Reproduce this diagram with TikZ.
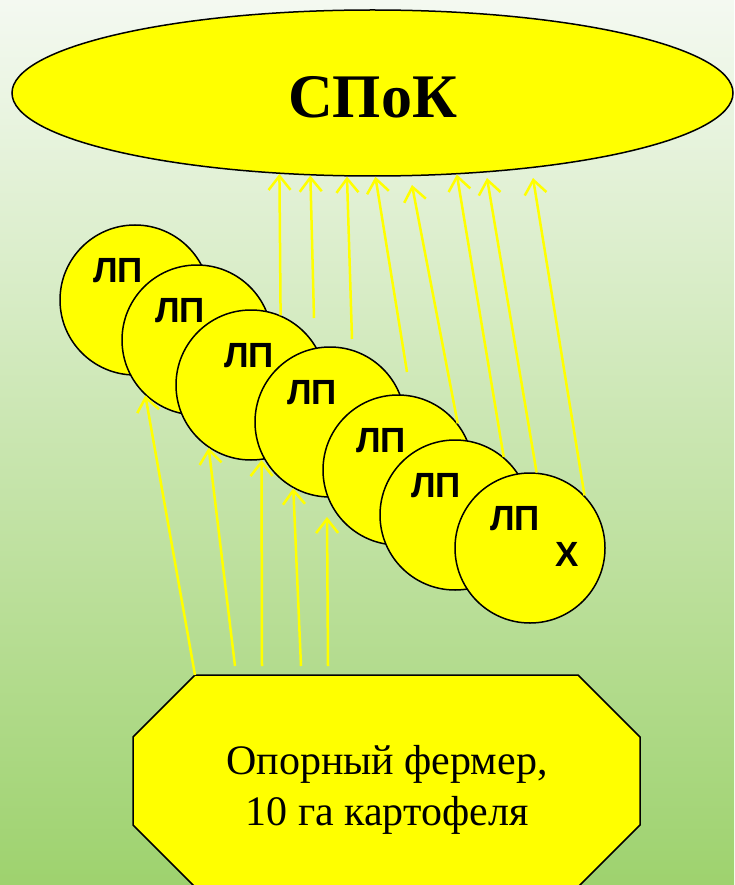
\documentclass[tikz,border=0pt]{standalone}
\usepackage{fontspec}
\setmainfont{Liberation Serif}
\newfontfamily\lpfont{Liberation Sans}
\usetikzlibrary{shapes.geometric,arrows.meta}

\definecolor{bgtop}{HTML}{F4F9F1}
\definecolor{bgmid}{HTML}{D6EACA}
\definecolor{bgbot}{HTML}{9ED26E}
\definecolor{sun}{HTML}{FFFF00}

\tikzset{
  lp/.style={circle, draw=black, line width=1.5pt, fill=sun, minimum size=150pt, inner sep=0pt},
  lptext/.style={font=\lpfont\bfseries\fontsize{35}{40}\selectfont},
  feed/.style={draw=sun, line width=2.5pt, -{Straight Barb[length=14pt,width=22pt]}}
}

\begin{document}
\begin{tikzpicture}[x=1pt,y=-1pt]
	\useasboundingbox (0,0) rectangle (734,885);
	\clip (0,0) rectangle (734,885);
	\shade[top color=bgtop, middle color=bgmid, bottom color=bgbot] (0,0) rectangle (734,885);

	\node[ellipse, draw=black, line width=1.5pt, fill=sun, minimum width=721pt, minimum height=166pt,
	      inner sep=0pt, text height=50pt, font=\bfseries\fontsize{62}{70}\selectfont] (spok) at (372.5,93) {СПоК};

	% the row of circles, each one over the one before
	\foreach \n/\x/\y/\dx in {1/135/300/-17, 2/197/340/-17, 3/251/385/-2, 4/330/422/-18,
	                          5/398/470/-17, 6/455/515/-19, 7/530/548/-15}
		\node[lp, label={[lptext, xshift=\dx pt, yshift=29pt]center:ЛП}] (c\n) at (\x,\y) {};
	\node[lptext] (xmark) at ([xshift=37pt,yshift=-6pt]c7.center) {Х};

	\filldraw[fill=sun, draw=black, line width=1.5pt] (195,675) coordinate (farmtl) -- (578,675) -- (640,737)
		-- (640,825) -- (578,887) -- (195,887) -- (133,825) -- (133,737) -- cycle;
	\node[font=\fontsize{42}{51}\selectfont, align=center] (farmer) at (387,790) {Опорный фермер,\\10 га картофеля};

	% up to the ellipse
	\coordinate (u2) at (314,318);
	\coordinate (u3) at (352,339);
	\coordinate (u4) at (407,372);
	\coordinate (t5) at (412,185);
	\coordinate (t7) at (487,178);
	\coordinate (t8) at (533,178);
	\draw[feed] (c3.67) -- (spok.-139.75);
	\draw[feed] (u2) -- (spok.-127.1);
	\draw[feed] (u3) -- (spok.-107.3);
	\draw[feed] (u4) -- (spok.-88.3);
	\draw[feed] (c5.38) -- (t5);
	\draw[feed] (c6.50) -- (spok.-44.8);
	\draw[feed] (c7.85) -- (t7);
	\draw[feed] (c7.44) -- (t8);

	% up from the farmer
	\coordinate (l2) at (235,666);
	\coordinate (l3) at (262,666);
	\coordinate (l4) at (301,666);
	\coordinate (l5) at (328,666);
	\coordinate (t9) at (327,517);
	\draw[feed] (farmtl) -- (c2.-133);
	\draw[feed] (l2) -- (c3.-124);
	\draw[feed] (l3) -- (c3.-82);
	\draw[feed] (l4) -- (c4.-119);
	\draw[feed] (l5) -- (t9);

\end{tikzpicture}
\end{document}
